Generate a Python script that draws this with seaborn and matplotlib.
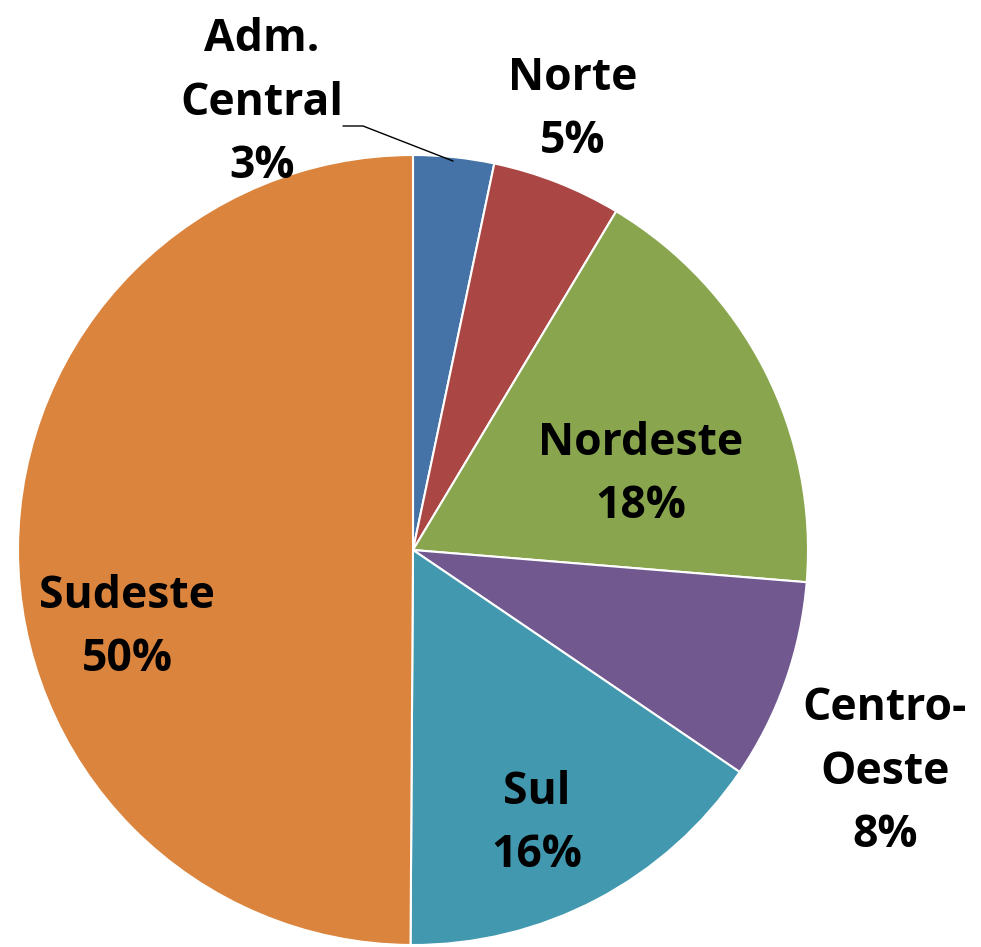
import matplotlib
matplotlib.use("Agg")
import matplotlib.pyplot as plt
import seaborn as sns

# regional share (percent)
regions = ["Adm.\nCentral", "Norte", "Nordeste", "Centro-\nOeste", "Sul", "Sudeste"]
shares = [3.3, 5.3, 17.7, 8.2, 15.6, 49.9]
colors = ["#4572A7", "#AA4643", "#89A54E", "#71588F", "#4198AF", "#DB843D"]

# label centres in pixels of the 981x947 image
label_px = [(262, 103), (573, 110), (641, 475), (885, 772), (537, 824), (127, 628)]

if __name__ == "__main__":

    sns.set_theme(style="white")
    plt.rcParams["font.family"] = ["Open Sans", "DejaVu Sans"]

    fig = plt.figure(figsize=(9.81, 9.47), dpi=100)
    ax = fig.add_axes([0, 0, 1, 1])

    cx, cy, r = 413, 550, 395
    ax.pie(
        shares,
        colors=colors,
        startangle=90,
        counterclock=False,
        radius=1,
        wedgeprops=dict(edgecolor="white", linewidth=1.5),
    )

    def to_data(px, py):
        return (px - cx) / r, (cy - py) / r

    ax.set_xlim(to_data(0, 0)[0], to_data(981, 0)[0])
    ax.set_ylim(to_data(0, 947)[1], to_data(0, 0)[1])
    ax.set_aspect("equal")
    ax.axis("off")

    for name, val, (px, py) in zip(regions, shares, label_px):
        x, y = to_data(px, py)
        ax.text(
            x, y, f"{name}\n{val:.0f}%",
            ha="center", va="center",
            fontsize=32, fontweight="bold", color="black",
            linespacing=1.55,
        )

    # leader line for the small slice
    pts = [to_data(343, 126), to_data(363, 126), to_data(453, 161)]
    ax.plot([p[0] for p in pts], [p[1] for p in pts], color="black", lw=1)

    fig.savefig("out.png", dpi=100)
